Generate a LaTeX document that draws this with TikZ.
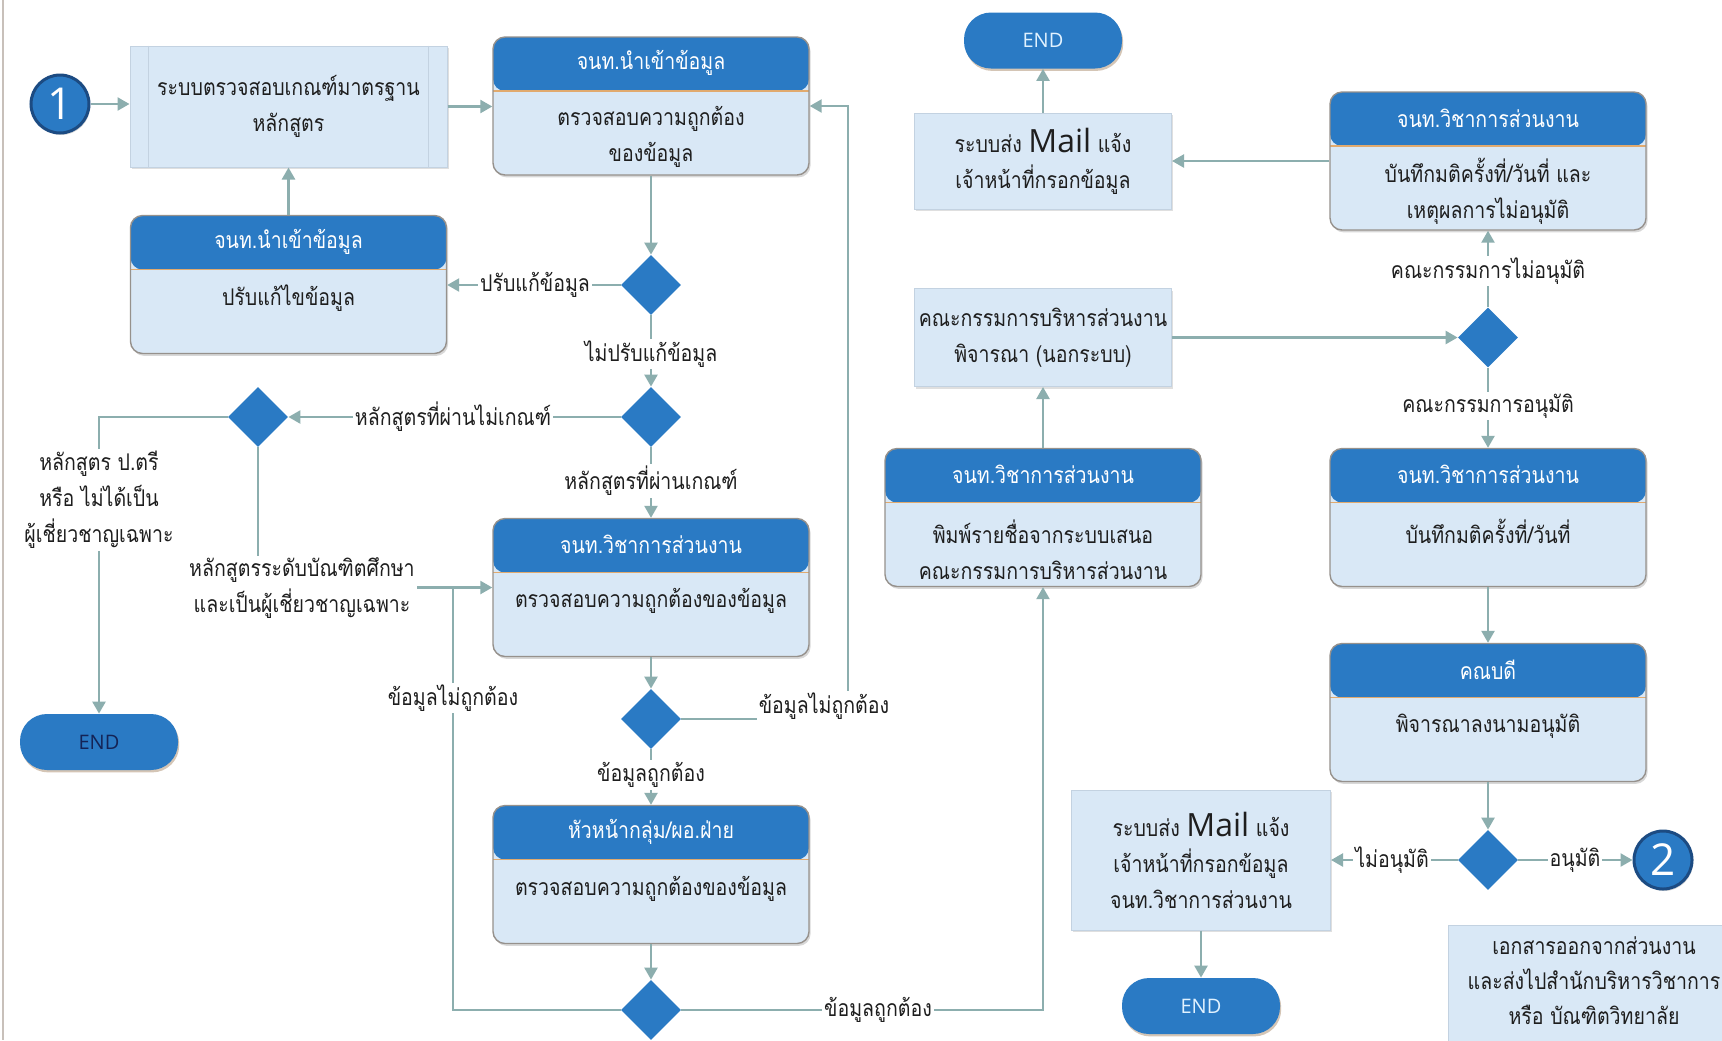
\documentclass[tikz,border=0pt]{standalone}
\usepackage{fontspec}
\setmainfont[Script=Thai,FakeStretch=0.85]{Loma}
\newfontfamily\sansf{Open Sans}
\usetikzlibrary{shapes.geometric,arrows.meta,shadows,calc}
\definecolor{hdrblue}{RGB}{42,122,196}
\definecolor{bodyblue}{RGB}{217,232,246}
\definecolor{cardline}{RGB}{150,145,140}
\definecolor{sepline}{RGB}{225,170,110}
\definecolor{connc}{RGB}{140,174,174}
\definecolor{darkblue}{RGB}{28,75,130}
\definecolor{navy}{RGB}{20,35,85}
\definecolor{endtxt}{RGB}{225,242,255}
\definecolor{rboxline}{RGB}{195,210,225}
\definecolor{leftline}{RGB}{200,192,186}
\definecolor{txt}{RGB}{30,30,30}
\newcommand\mailw{{\sansf\fontsize{16}{18}\selectfont Mail}}
\begin{document}
\begin{tikzpicture}[x=0.5pt,y=-0.5pt,
  every node/.style={font=\fontsize{11.5}{18}\selectfont, text=txt},
  card/.style={draw=cardline, line width=0.7pt, rounded corners=6pt, fill=bodyblue,
    minimum width=158pt, minimum height=69pt, inner sep=0pt,
    drop shadow={shadow xshift=0.8pt,shadow yshift=-1.2pt,opacity=0.3},
    path picture={\fill[hdrblue] (path picture bounding box.north west) rectangle ([yshift=-27pt]path picture bounding box.north east);
      \draw[sepline,line width=0.6pt] ([yshift=-27pt]path picture bounding box.north west) -- ([yshift=-27pt]path picture bounding box.north east);}},
  hdrtxt/.style={text=white, inner sep=0pt},
  bodytxt/.style={align=center, inner sep=0pt},
  rbox/.style={fill=bodyblue, draw=rboxline, line width=0.5pt, align=center, inner sep=0pt,
    drop shadow={shadow xshift=0.8pt,shadow yshift=-1.2pt,opacity=0.25}},
  dia/.style={diamond, fill=hdrblue, minimum width=30pt, minimum height=30pt, inner sep=0pt},
  circ/.style={circle, fill=hdrblue, draw=darkblue, line width=1.5pt, minimum size=29pt, inner sep=0pt,
    text=white, font=\sansf\fontsize{22}{22}\selectfont,
    drop shadow={shadow xshift=0.6pt,shadow yshift=-1pt,opacity=0.3}},
  term/.style={rectangle, rounded corners=13.5pt, fill=hdrblue, minimum width=79pt, minimum height=28pt, inner sep=0pt,
    font=\sansf\fontsize{10}{10}\selectfont,
    drop shadow={shadow xshift=0.6pt,shadow yshift=-1.2pt,opacity=0.35,fill=brown!70!black}},
  conn/.style={draw=connc, line width=1.2pt, -{Triangle[length=6pt,width=6.5pt]}},
  cline/.style={draw=connc, line width=1.2pt},
  lbl/.style={fill=white, inner sep=1pt, align=center}
]
\useasboundingbox (0,0) rectangle (1722,1040);
\clip (0,0) rectangle (1722,1040);
\fill[white] (0,0) rectangle (1722,1040);
\draw[leftline, line width=1pt] (3,0) -- (3,1040);

% ---------- left column ----------
\node[circ] (c1) at (60,104) {1};
\node[rbox, minimum width=158.5pt, minimum height=60.5pt] (b1) at (288.5,106.5) {ระบบตรวจสอบเกณฑ์มาตรฐาน\\หลักสูตร};
\draw[rboxline, line width=0.6pt] ([xshift=9.5pt]b1.north west) -- ([xshift=9.5pt]b1.south west);
\draw[rboxline, line width=0.6pt] ([xshift=-9.5pt]b1.north east) -- ([xshift=-9.5pt]b1.south east);

\node[card] (b2) at (651,106) {};
\node[hdrtxt] (b2h) at ([yshift=-13.5pt]b2.north) {จนท.นำเข้าข้อมูล};
\node[bodytxt] (b2t) at (651,136.5) {ตรวจสอบความถูกต้อง\\ของข้อมูล};

\node[card] (b3) at (288.5,284.5) {};
\node[hdrtxt] (b3h) at ([yshift=-13.5pt]b3.north) {จนท.นำเข้าข้อมูล};
\node[bodytxt] (b3t) at (288.5,298) {ปรับแก้ไขข้อมูล};

\node[dia] (d1) at (651,285) {};
\node[dia] (d2) at (651,417) {};
\node[dia] (d3) at (258,417) {};
\node[term, text=navy] (e1) at (99,742) {END};

\node[card] (b4) at (651,587.5) {};
\node[hdrtxt] (b4h) at ([yshift=-13.5pt]b4.north) {จนท.วิชาการส่วนงาน};
\node[bodytxt] (b4t) at (651,601) {ตรวจสอบความถูกต้องของข้อมูล};

\node[dia] (d4) at (651,719) {};

\node[card] (b5) at (651,874.5) {};
\node[hdrtxt] (b5h) at ([yshift=-13.5pt]b5.north) {หัวหน้ากลุ่ม/ผอ.ฝ่าย};
\node[bodytxt] (b5t) at (651,889) {ตรวจสอบความถูกต้องของข้อมูล};

\node[dia] (d5) at (651,1010) {};

% ---------- middle column ----------
\node[term, text=endtxt] (e2) at (1043,40.5) {END};
\node[rbox, minimum width=128.5pt, minimum height=48pt] (b9) at (1043,161) {ระบบส่ง \mailw{} แจ้ง\\เจ้าหน้าที่กรอกข้อมูล};
\node[rbox, minimum width=128.5pt, minimum height=49pt] (b7) at (1043,337.5) {คณะกรรมการบริหารส่วนงาน\\พิจารณา (นอกระบบ)};

\node[card] (b6) at (1043,517.5) {};
\node[hdrtxt] (b6h) at ([yshift=-13.5pt]b6.north) {จนท.วิชาการส่วนงาน};
\node[bodytxt] (b6t) at (1043,549.5) {พิมพ์รายชื่อจากระบบเสนอ\\คณะกรรมการบริหารส่วนงาน};

\node[rbox, minimum width=129.5pt, minimum height=70pt] (b12) at (1201,860) {ระบบส่ง \mailw{} แจ้ง\\เจ้าหน้าที่กรอกข้อมูล\\จนท.วิชาการส่วนงาน};
\node[term, text=endtxt] (e3) at (1201,1006) {END};

% ---------- right column ----------
\node[card] (b8) at (1488,161) {};
\node[hdrtxt] (b8h) at ([yshift=-13.5pt]b8.north) {จนท.วิชาการส่วนงาน};
\node[bodytxt] (b8t) at (1488,191.5) {บันทึกมติครั้งที่/วันที่ และ\\เหตุผลการไม่อนุมัติ};

\node[dia] (d6) at (1488,337.5) {};

\node[card] (b10) at (1488,517.5) {};
\node[hdrtxt] (b10h) at ([yshift=-13.5pt]b10.north) {จนท.วิชาการส่วนงาน};
\node[bodytxt] (b10t) at (1488,531) {บันทึกมติครั้งที่/วันที่};

\node[card] (b11) at (1488,712.5) {};
\node[hdrtxt] (b11h) at ([yshift=-13.5pt]b11.north) {คณบดี};
\node[bodytxt] (b11t) at (1488,726) {พิจารณาลงนามอนุมัติ};

\node[dia] (d7) at (1488,860) {};
\node[circ] (c2) at (1663,860) {2};

\node[rbox, minimum width=145.5pt, minimum height=65pt] (b13) at (1594,990) {};
\node[bodytxt, font=\fontsize{11.5}{17.5}\selectfont] (b13t) at (1594,981) {เอกสารออกจากส่วนงาน\\และส่งไปสำนักบริหารวิชาการ\\หรือ บัณฑิตวิทยาลัย};

% ---------- connectors ----------
\coordinate (k1) at (848,719);
\coordinate (k2) at (453,1010);
\coordinate (k3) at (453,587.5);

\draw[conn] (c1.east) -- (c1.east -| b1.west);
\draw[conn] (b1.east) -- (b1.east -| b2.west);
\draw[conn] (b3) -- (b1);
\draw[conn] (b2) -- (d1);
\draw[conn] (d1.west) -- (d1.west -| b3.east);
\draw[conn] (d1) -- (d2);
\draw[conn] (d2) -- (d3);
\draw[conn] (d3.west) -| (e1.north);
\draw[conn] (d3.south) |- (b4.west);
\draw[conn] (d2) -- (b4);
\draw[conn] (b4) -- (d4);
\draw[conn] (d4.east) -- (k1) |- (b2.east);
\draw[conn] (d4) -- (b5);
\draw[conn] (b5) -- (d5);
\draw[cline] (d5.west) -- (k2) -- (k3);
\draw[conn] (d5.east) -| (b6.south);
\draw[conn] (b6) -- (b7);
\draw[conn] (b7) -- (d6);
\draw[conn] (d6) -- (b8);
\draw[conn] (b8) -- (b9);
\draw[conn] (b9) -- (e2);
\draw[conn] (d6) -- (b10);
\draw[conn] (b10) -- (b11);
\draw[conn] (b11) -- (d7);
\draw[conn] (d7) -- (c2);
\draw[conn] (d7) -- (b12);
\draw[conn] (b12) -- (e3);

% ---------- labels ----------
\node[lbl] (l1) at (535,285) {ปรับแก้ข้อมูล};
\node[lbl] (l2) at (651,354) {ไม่ปรับแก้ข้อมูล};
\node[lbl] (l3) at (453,417) {หลักสูตรที่ผ่านไม่เกณฑ์};
\node[lbl] (l4) at (99,500) {หลักสูตร ป.ตรี\\หรือ ไม่ได้เป็น\\ผู้เชี่ยวชาญเฉพาะ};
\node[lbl] (l5) at (302,588) {หลักสูตรระดับบัณฑิตศึกษา\\และเป็นผู้เชี่ยวชาญเฉพาะ};
\node[lbl] (l6) at (651,481) {หลักสูตรที่ผ่านเกณฑ์};
\node[lbl] (l7) at (824,706) {ข้อมูลไม่ถูกต้อง};
\node[lbl] (l8) at (651,775) {ข้อมูลถูกต้อง};
\node[lbl] (l9) at (453,698) {ข้อมูลไม่ถูกต้อง};
\node[lbl] (l10) at (878,1010) {ข้อมูลถูกต้อง};
\node[lbl] (l11) at (1488,271) {คณะกรรมการไม่อนุมัติ};
\node[lbl] (l12) at (1488,406) {คณะกรรมการอนุมัติ};
\node[lbl] (l13) at (1575,860) {อนุมัติ};
\node[lbl] (l14) at (1392,860) {ไม่อนุมัติ};
\end{tikzpicture}
\end{document}
